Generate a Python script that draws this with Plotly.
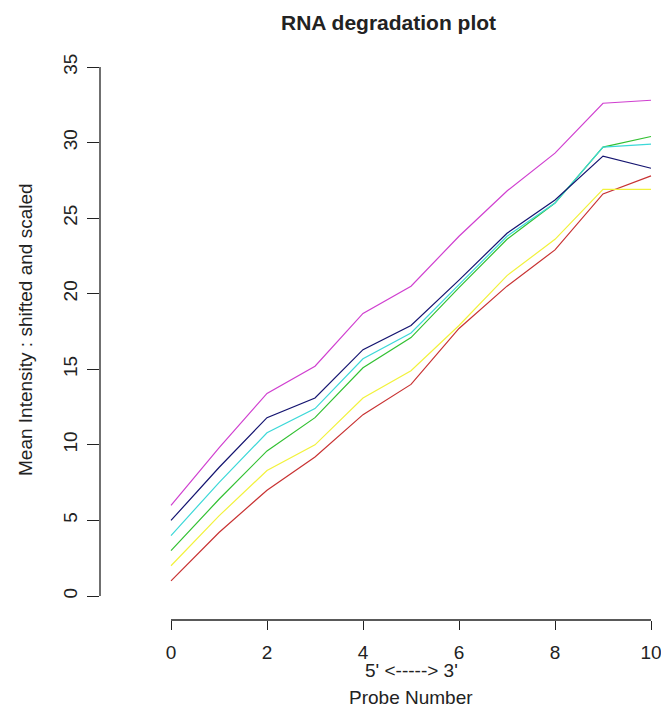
import plotly.graph_objects as go

probe = [0, 1, 2, 3, 4, 5, 6, 7, 8, 9, 10]
s_magenta = [6.0, 9.8, 13.4, 15.2, 18.7, 20.5, 23.8, 26.8, 29.3, 32.6, 32.8]
s_blue = [5.0, 8.5, 11.8, 13.1, 16.3, 17.9, 20.9, 24.0, 26.2, 29.1, 28.3]
s_cyan = [4.0, 7.5, 10.8, 12.4, 15.7, 17.4, 20.6, 23.8, 26.0, 29.7, 29.9]
s_green = [3.0, 6.4, 9.6, 11.8, 15.1, 17.1, 20.4, 23.6, 26.0, 29.7, 30.4]
s_yellow = [2.0, 5.3, 8.3, 10.0, 13.1, 14.9, 17.9, 21.2, 23.6, 26.9, 26.9]
s_red = [1.0, 4.2, 7.0, 9.2, 12.0, 14.0, 17.7, 20.5, 22.9, 26.6, 27.8]

series = [s_red, s_yellow, s_green, s_cyan, s_blue, s_magenta]
colors = ["#C83232", "#F2F23C", "#32C032", "#3CD8D8", "#141470", "#D040D0"]

x_ticks = [0, 2, 4, 6, 8, 10]
y_ticks = [0, 5, 10, 15, 20, 25, 30, 35]

W, H = 661, 711
# pixel calibration
L, R, T, B = 100, 661, 40, 620
px_x0, px_per_x = 171, 48.0
px_y0, px_per_y = 596, 529 / 35
xr = [(L - px_x0) / px_per_x, (R - px_x0) / px_per_x]
yr = [(px_y0 - B) / px_per_y, (px_y0 - T) / px_per_y]

font = "Liberation Sans, Arial, sans-serif"

fig = go.Figure()
for ys, c in zip(series, colors):
    fig.add_trace(go.Scatter(x=probe, y=ys, mode="lines",
                             line=dict(color=c, width=1.2), showlegend=False,
                             hoverinfo="skip", cliponaxis=False))

fig.update_layout(
    width=W, height=H,
    margin=dict(l=L, r=W - R, t=T, b=H - B, autoexpand=False),
    paper_bgcolor="white", plot_bgcolor="white",
    font=dict(family=font, size=19, color="#222"),
    xaxis=dict(range=xr, tickvals=x_ticks, ticks="outside", ticklen=9,
               tickcolor="#222", tickwidth=1.3, showgrid=False, zeroline=False,
               showline=False, ticklabelstandoff=6, automargin=False,
               ticklabeloverflow="allow",
               tickfont=dict(size=19, color="#222")),
    yaxis=dict(range=yr, tickvals=y_ticks, ticks="outside", ticklen=12,
               tickcolor="#222", tickwidth=1.3, showgrid=False, zeroline=False,
               showline=False, tickangle=-90, ticklabelstandoff=2, automargin=False,
               ticklabeloverflow="allow",
               tickfont=dict(size=19, color="#222")),
)

# axis lines spanning only the tick range (R style)
fig.add_shape(type="line", xref="x", yref="paper", x0=x_ticks[0], x1=x_ticks[-1],
              y0=0, y1=0, line=dict(color="#222", width=1.3))
fig.add_shape(type="line", xref="paper", yref="y", x0=0, x1=0,
              y0=y_ticks[0], y1=y_ticks[-1], line=dict(color="#222", width=1.3))

fig.add_annotation(text="<b>RNA degradation plot</b>", xref="paper", yref="paper",
                   x=(388 - L) / (R - L), y=1 + (T - 22) / (B - T),
                   showarrow=False, font=dict(size=21, color="#222"),
                   xanchor="center", yanchor="middle")
fig.add_annotation(text="5' &lt;-----&gt; 3'", xref="paper", yref="paper",
                   x=(411 - L) / (R - L), y=-(670 - B) / (B - T),
                   showarrow=False, font=dict(size=19, color="#222"),
                   xanchor="center", yanchor="middle")
fig.add_annotation(text="Probe Number", xref="paper", yref="paper",
                   x=(411 - L) / (R - L), y=-(697 - B) / (B - T),
                   showarrow=False, font=dict(size=19, color="#222"),
                   xanchor="center", yanchor="middle")
fig.add_annotation(text="Mean Intensity : shifted and scaled", xref="paper", yref="paper",
                   x=-(L - 25) / (R - L), y=(B - 330) / (B - T), textangle=-90,
                   showarrow=False, font=dict(size=19, color="#222"),
                   xanchor="center", yanchor="middle")

fig.write_html("out.html", config={"displayModeBar": False},
               post_script="document.body.style.margin='0px';document.body.style.overflow='hidden';")
